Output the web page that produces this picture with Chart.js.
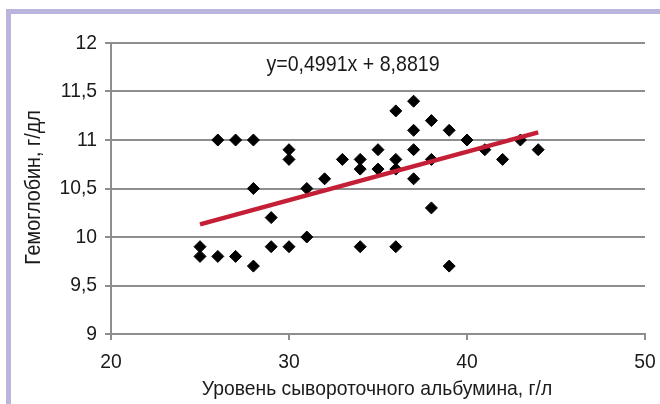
<!DOCTYPE html>
<html>
<head>
<meta charset="utf-8">
<script src="https://cdn.jsdelivr.net/npm/chart.js@4/dist/chart.umd.min.js"></script>
<style>
  html, body { margin: 0; padding: 0; background: #ffffff; }
  #wrap { position: relative; width: 660px; height: 404px; overflow: hidden; }
  #frame {
    position: absolute; left: 6px; top: 9px; right: -10px; bottom: -10px;
    border-top: 5px solid #b9b5dd; border-left: 5px solid #b9b5dd;
  }
  canvas { position: absolute; left: 0; top: 0; }
</style>
</head>
<body>
<div id="wrap">
  <div id="frame"></div>
  <canvas id="c" width="660" height="404"></canvas>
</div>
<script>
// Serum albumin (g/l) vs hemoglobin (g/dl)
const albumin = [25, 25, 26, 26, 27, 27, 28, 28, 28, 29, 29, 30, 30, 30, 31, 31, 32, 33, 34, 34, 34,
                 35, 35, 36, 36, 36, 36, 37, 37, 37, 37, 38, 38, 38, 39, 39, 40, 41, 42, 43, 44];
const hemoglobin = [9.9, 9.8, 9.8, 11.0, 11.0, 9.8, 11.0, 10.5, 9.7, 10.2, 9.9, 10.9, 10.8, 9.9, 10.5, 10.0, 10.6, 10.8, 10.8, 10.7, 9.9,
                    10.9, 10.7, 11.3, 10.8, 10.7, 9.9, 11.4, 11.1, 10.9, 10.6, 11.2, 10.8, 10.3, 11.1, 9.7, 11.0, 10.9, 10.8, 11.0, 10.9];

// Linear trend: y = trendSlope * x + trendIntercept over the data's x range
const trendSlope = 0.04991;
const trendIntercept = 8.8819;
const trendRange = [25, 44];
const trendLabel = 'y=0,4991x + 8,8819';

const xTicks = [20, 30, 40, 50];
const yTicks = [9, 9.5, 10, 10.5, 11, 11.5, 12];

const xTitle = 'Уровень сывороточного альбумина, г/л';
const yTitle = 'Гемоглобин, г/дл';

const FONT = '"Liberation Sans", Arial, sans-serif';
const NARROW = 0.92;          // horizontal squeeze for a condensed look
const INK = '#1a1a1a';
const GRID = '#8e8e8e';

const points = albumin.map((x, i) => ({ x: x, y: hemoglobin[i] }));
const trend = trendRange.map(x => ({ x: x, y: trendSlope * x + trendIntercept }));

const fmt = v => String(v).replace('.', ',');

// Draw text squeezed horizontally (in its own reading direction)
function narrowText(ctx, text, x, y, size, align, baseline, rotation) {
  ctx.save();
  ctx.translate(x, y);
  if (rotation) ctx.rotate(rotation);
  ctx.scale(NARROW, 1);
  ctx.font = size + 'px ' + FONT;
  ctx.fillStyle = INK;
  ctx.textAlign = align;
  ctx.textBaseline = baseline;
  ctx.fillText(text, 0, 0);
  ctx.restore();
}

const narrowLabels = {
  id: 'narrowLabels',
  afterDraw(chart) {
    const { ctx, chartArea, scales } = chart;
    const xs = scales.x, ys = scales.y;
    // y tick labels
    ys.ticks.forEach(t => {
      narrowText(ctx, fmt(t.value), ys.right - 14, ys.getPixelForValue(t.value), 21, 'right', 'middle');
    });
    // x tick labels
    xs.ticks.forEach(t => {
      narrowText(ctx, fmt(t.value), xs.getPixelForValue(t.value), xs.top + 34, 21, 'center', 'alphabetic');
    });
    // axis titles
    narrowText(ctx, xTitle, (chartArea.left + chartArea.right) / 2 - 1, xs.top + 61, 21, 'center', 'alphabetic');
    narrowText(ctx, yTitle, 40, (chartArea.top + chartArea.bottom) / 2 - 1, 21.5, 'center', 'alphabetic', -Math.PI / 2);
    // trend equation
    narrowText(ctx, trendLabel, chartArea.left + 242, chartArea.top + 28, 21.3, 'center', 'alphabetic');
  }
};

new Chart(document.getElementById('c'), {
  type: 'scatter',
  data: {
    datasets: [
      {
        type: 'line',
        data: trend,
        borderColor: '#c41f36',
        borderWidth: 4.5,
        pointRadius: 0,
        fill: false,
        order: 0
      },
      {
        data: points,
        pointStyle: 'rectRot',
        pointRadius: 6,
        pointBorderWidth: 1,
        backgroundColor: '#000000',
        borderColor: '#000000',
        order: 1
      }
    ]
  },
  options: {
    responsive: false,
    animation: false,
    devicePixelRatio: 1,
    layout: { padding: { left: 0, right: 15, top: 43, bottom: 0 } },
    plugins: { legend: { display: false }, tooltip: { enabled: false } },
    scales: {
      x: {
        type: 'linear',
        min: 20, max: 50,
        afterFit(scale) { scale.height = 70; },
        afterBuildTicks(scale) { scale.ticks = xTicks.map(v => ({ value: v })); },
        border: { display: true, color: GRID, width: 2 },
        grid: { drawOnChartArea: false, drawTicks: true, tickLength: 6, color: GRID, lineWidth: 2 },
        ticks: { display: false }
      },
      y: {
        type: 'linear',
        min: 9, max: 12,
        afterFit(scale) { scale.width = 111; },
        afterBuildTicks(scale) { scale.ticks = yTicks.map(v => ({ value: v })); },
        border: { display: true, color: GRID, width: 2 },
        grid: { drawOnChartArea: true, drawTicks: true, tickLength: 6, color: GRID, lineWidth: 2 },
        ticks: { display: false }
      }
    }
  },
  plugins: [narrowLabels]
});
</script>
</body>
</html>
